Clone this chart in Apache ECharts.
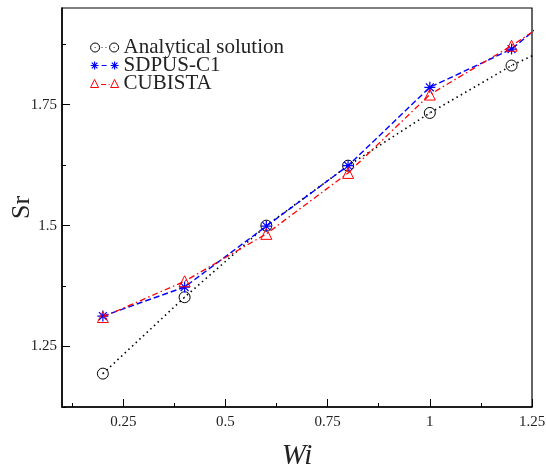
<!DOCTYPE html>
<html>
<head>
<meta charset="utf-8">
<script src="https://cdn.jsdelivr.net/npm/echarts@6/dist/echarts.min.js"></script>
<style>
html,body{margin:0;padding:0;background:#fff;}
#chart{width:546px;height:465px;}
</style>
</head>
<body>
<div id="chart"></div>
<script>
// ---- data ----
const wi = [0.2, 0.4, 0.6, 0.8, 1.0, 1.2, 1.4];
const analytical = [1.194, 1.352, 1.500, 1.624, 1.733, 1.831, 1.911];
const sdpusC1 = [1.313, 1.373, 1.499, 1.624, 1.786, 1.865, 2.005];
const cubista = [1.311, 1.385, 1.483, 1.609, 1.771, 1.872, 1.984];
const seriesNames = ['Analytical solution', 'SDPUS-C1', 'CUBISTA'];
const xMajorTicks = [0.25, 0.5, 0.75, 1, 1.25];
const xMinorTicks = [0.125, 0.375, 0.625, 0.875, 1.125];
const yMajorTicks = [1.25, 1.5, 1.75];
const yMinorTicks = [1.125, 1.375, 1.625, 1.875];

const pairs = (ys) => wi.map((x, i) => [x, ys[i]]);

const SERIF = 'Liberation Serif, Times New Roman, serif';
const symCircleDot = 'path://M0,-5A5,5 0 1 1 0,5A5,5 0 1 1 0,-5ZM-0.4,0L0.4,0';
const symStar = 'path://M-5,0L5,0M0,-5L0,5M-3.6,-3.6L3.6,3.6M-3.6,3.6L3.6,-3.6';
const symTri = 'path://M0,-5L5,4L-5,4Z';

const legCircle = 'path://M4.5,0.5A4.5,4.5 0 1 1 4.5,9.5A4.5,4.5 0 1 1 4.5,0.5ZM4.1,5L4.9,5M11,5L11.8,5M15,5L15.8,5M23.5,0.5A4.5,4.5 0 1 1 23.5,9.5A4.5,4.5 0 1 1 23.5,0.5ZM23.1,5L23.9,5';
const legStar = 'path://M0,5L8,5M4,1L4,9M1.2,2.2L6.8,7.8M1.2,7.8L6.8,2.2M11,5L16,5M20,5L28,5M24,1L24,9M21.2,2.2L26.8,7.8M21.2,7.8L26.8,2.2';
const legTri = 'path://M4,1L8,9L0,9ZM10.5,6L15.5,6M18,6L19,6M24,1L28,9L20,9Z';

const axisBase = {
  type: 'value',
  splitLine: { show: false }
};

const option = {
  animation: false,
  backgroundColor: '#fff',
  grid: {
    left: 62, right: 14, top: 8, bottom: 58,
    containLabel: false, outerBoundsMode: 'none',
    show: true, borderColor: '#000', borderWidth: 1.2
  },
  legend: {
    orient: 'vertical',
    left: 90, top: 37,
    padding: 0,
    itemWidth: 28, itemHeight: 10, itemGap: -3,
    selectedMode: false,
    textStyle: { fontFamily: SERIF, fontSize: 21, color: '#222' },
    data: [
      { name: seriesNames[0], icon: legCircle, itemStyle: { color: 'rgba(0,0,0,0)', borderColor: '#000', borderWidth: 1 } },
      { name: seriesNames[1], icon: legStar, itemStyle: { color: 'rgba(0,0,0,0)', borderColor: '#0000ff', borderWidth: 1.2 } },
      { name: seriesNames[2], icon: legTri, itemStyle: { color: 'rgba(0,0,0,0)', borderColor: '#ff0000', borderWidth: 1 } }
    ]
  },
  xAxis: [
    Object.assign({}, axisBase, {
      min: 0.1, max: 1.25, position: 'bottom',
      axisLine: { show: true, lineStyle: { color: '#000', width: 1.5 } },
      axisTick: { show: true, inside: true, length: 8, customValues: xMajorTicks, lineStyle: { color: '#000', width: 1 } },
      axisLabel: { customValues: xMajorTicks, fontFamily: SERIF, fontSize: 15, color: '#222', margin: 8 },
      name: 'Wi', nameLocation: 'middle', nameGap: 35, nameMoveOverlap: false,
      nameTextStyle: { fontFamily: SERIF, fontSize: 29, fontStyle: 'italic', color: '#222' }
    }),
    Object.assign({}, axisBase, {
      min: 0.1, max: 1.25, position: 'bottom',
      axisLine: { show: false },
      axisTick: { show: true, inside: true, length: 4, customValues: xMinorTicks, lineStyle: { color: '#000', width: 1 } },
      axisLabel: { show: false }
    })
  ],
  yAxis: [
    Object.assign({}, axisBase, {
      min: 1.125, max: 1.95, position: 'left',
      axisLine: { show: true, lineStyle: { color: '#000', width: 1.5 } },
      axisTick: { show: true, inside: true, length: 8, customValues: yMajorTicks, lineStyle: { color: '#000', width: 1 } },
      axisLabel: { customValues: yMajorTicks, fontFamily: SERIF, fontSize: 15, color: '#222', margin: 5 },
      name: 'Sr', nameLocation: 'middle', nameGap: 27, nameMoveOverlap: false,
      nameTextStyle: { fontFamily: SERIF, fontSize: 26, color: '#222' }
    }),
    Object.assign({}, axisBase, {
      min: 1.125, max: 1.95, position: 'left',
      axisLine: { show: false },
      axisTick: { show: true, inside: true, length: 4, customValues: yMinorTicks, lineStyle: { color: '#000', width: 1 } },
      axisLabel: { show: false }
    })
  ],
  series: [
    {
      name: seriesNames[0], type: 'line', xAxisIndex: 0, yAxisIndex: 0,
      data: pairs(analytical), clip: true,
      symbol: symCircleDot, symbolSize: 11,
      itemStyle: { color: 'rgba(0,0,0,0)', borderColor: '#000', borderWidth: 1 },
      lineStyle: { color: '#000', width: 1.6, type: [1.5, 3.5] },
      z: 2
    },
    {
      name: seriesNames[1], type: 'line', xAxisIndex: 0, yAxisIndex: 0,
      data: pairs(sdpusC1), clip: true,
      symbol: symStar, symbolSize: 11,
      itemStyle: { color: 'rgba(0,0,0,0)', borderColor: '#0000ff', borderWidth: 1.2 },
      lineStyle: { color: '#0000ff', width: 1.4, type: [6, 3] },
      z: 3
    },
    {
      name: seriesNames[2], type: 'line', xAxisIndex: 0, yAxisIndex: 0,
      data: pairs(cubista), clip: true,
      symbol: symTri, symbolSize: 11,
      itemStyle: { color: 'rgba(0,0,0,0)', borderColor: '#ff0000', borderWidth: 1 },
      lineStyle: { color: '#ff0000', width: 1.3, type: [6, 3, 1.5, 3] },
      z: 4
    }
  ]
};

const chart = echarts.init(document.getElementById('chart'), null, { renderer: 'canvas' });
chart.setOption(option);
</script>
</body>
</html>
